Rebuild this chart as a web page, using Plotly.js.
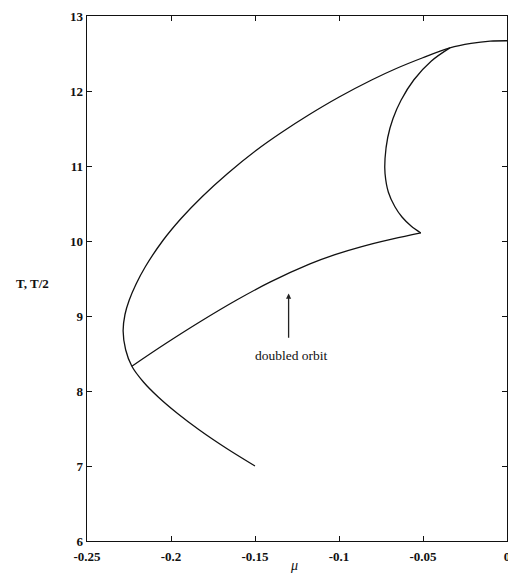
<!DOCTYPE html>
<html>
<head>
<meta charset="utf-8">
<script src="https://cdn.plot.ly/plotly-3.0.1.min.js"></script>
<style>html,body{margin:0;padding:0;background:#fff;}#chart{width:508px;height:573px;}</style>
</head>
<body>
<div id="chart"></div>
<script>
// Outer branch: from (-0.15, 7) round the nose up to the top near mu = 0
const outerMu = [-0.1500, -0.1673, -0.1831, -0.1961, -0.2076, -0.2164, -0.2233, -0.2270, -0.2285, -0.2274, -0.2249, -0.2207, -0.2152, -0.2047, -0.1940, -0.1815, -0.1663, -0.1492, -0.1347, -0.1181, -0.0999, -0.0803, -0.0659, -0.0505, -0.0340, -0.0214, -0.0100, 0.0000];
const outerT  = [7.00, 7.24, 7.48, 7.70, 7.92, 8.12, 8.33, 8.55, 8.80, 9.02, 9.21, 9.43, 9.66, 10.01, 10.30, 10.59, 10.90, 11.21, 11.44, 11.68, 11.92, 12.15, 12.30, 12.44, 12.575, 12.635, 12.665, 12.67];
// Swallowtail branch: from the cusp near the top down to the tip
const tailMu = [-0.0340, -0.0450, -0.0554, -0.0630, -0.0679, -0.0710, -0.0726, -0.0726, -0.0706, -0.0668, -0.0625, -0.0571, -0.0513];
const tailT  = [12.575, 12.40, 12.15, 11.88, 11.63, 11.38, 11.10, 10.90, 10.65, 10.46, 10.32, 10.20, 10.107];
// Doubled-orbit branch: from the tip back to the junction on the outer branch
const doubledMu = [-0.0513, -0.0679, -0.0875, -0.1024, -0.1173, -0.1411, -0.1609, -0.1827, -0.2036, -0.2233];
const doubledT  = [10.107, 10.027, 9.919, 9.818, 9.694, 9.451, 9.213, 8.923, 8.626, 8.33];

const xTickVals = [-0.25, -0.2, -0.15, -0.1, -0.05, 0];
const xTickText = ["-0.25", "-0.2", "-0.15", "-0.1", "-0.05", "0"];
const yTickVals = [6, 7, 8, 9, 10, 11, 12, 13];
const yTickText = ["6", "7", "8", "9", "10", "11", "12", "13"];

const lineStyle = {color: '#111', width: 1.3, shape: 'spline', smoothing: 1};

const traces = [
  {x: outerMu, y: outerT, mode: 'lines', line: lineStyle, hoverinfo: 'none'},
  {x: tailMu, y: tailT, mode: 'lines', line: lineStyle, hoverinfo: 'none'},
  {x: doubledMu, y: doubledT, mode: 'lines', line: lineStyle, hoverinfo: 'none'}
];

const serif = '"Liberation Serif", "DejaVu Serif", serif';
const tickFont = {family: serif, size: 13, color: '#111', weight: 'bold'};

const layout = {
  width: 508, height: 573,
  margin: {l: 87, r: 1, t: 16, b: 32},
  paper_bgcolor: '#fff', plot_bgcolor: '#fff',
  showlegend: false,
  xaxis: {
    range: [-0.25, 0], tickmode: 'array', tickvals: xTickVals, ticktext: xTickText,
    ticks: 'inside', ticklen: 5, tickcolor: '#111', tickwidth: 1,
    showline: true, linecolor: '#111', linewidth: 1.3, mirror: 'ticks',
    showgrid: false, zeroline: false, tickfont: tickFont,
    ticklabeloverflow: 'allow', ticklabelstandoff: 3
  },
  yaxis: {
    range: [6, 13], tickmode: 'array', tickvals: yTickVals, ticktext: yTickText,
    ticks: 'inside', ticklen: 5, tickcolor: '#111', tickwidth: 1,
    showline: true, linecolor: '#111', linewidth: 1.3, mirror: 'ticks',
    showgrid: false, zeroline: false, tickfont: tickFont
  },
  annotations: [
    {x: -0.13, y: 9.30, ax: -0.13, ay: 8.69, xref: 'x', yref: 'y', axref: 'x', ayref: 'y',
     showarrow: true, arrowhead: 2, arrowsize: 0.8, arrowwidth: 1.3, arrowcolor: '#222', text: ''},
    {x: -0.1285, y: 8.48, xref: 'x', yref: 'y', showarrow: false, text: 'doubled orbit',
     xanchor: 'center', yanchor: 'middle',
     font: {family: serif, size: 13.5, color: '#111'}},
    {showarrow: false, text: 'T, T/2', xref: 'paper', yref: 'paper', xanchor: 'center', yanchor: 'middle',
     font: {family: serif, size: 13, color: '#111', weight: 'bold'}},
    {showarrow: false, text: '<i>μ</i>', xref: 'paper', yref: 'paper', xanchor: 'center', yanchor: 'middle',
     font: {family: serif, size: 14, color: '#111'}}
  ]
};

// place the axis titles (pixel positions converted to paper coordinates)
const plotW = 508 - 87 - 1, plotH = 573 - 16 - 32;
layout.annotations[2].x = (32 - 87) / plotW; layout.annotations[2].y = 1 - (283 - 16) / plotH;
layout.annotations[3].x = (294 - 87) / plotW; layout.annotations[3].y = 1 - (565 - 16) / plotH;

Plotly.newPlot('chart', traces, layout, {displayModeBar: false, staticPlot: true});
</script>
</body>
</html>
